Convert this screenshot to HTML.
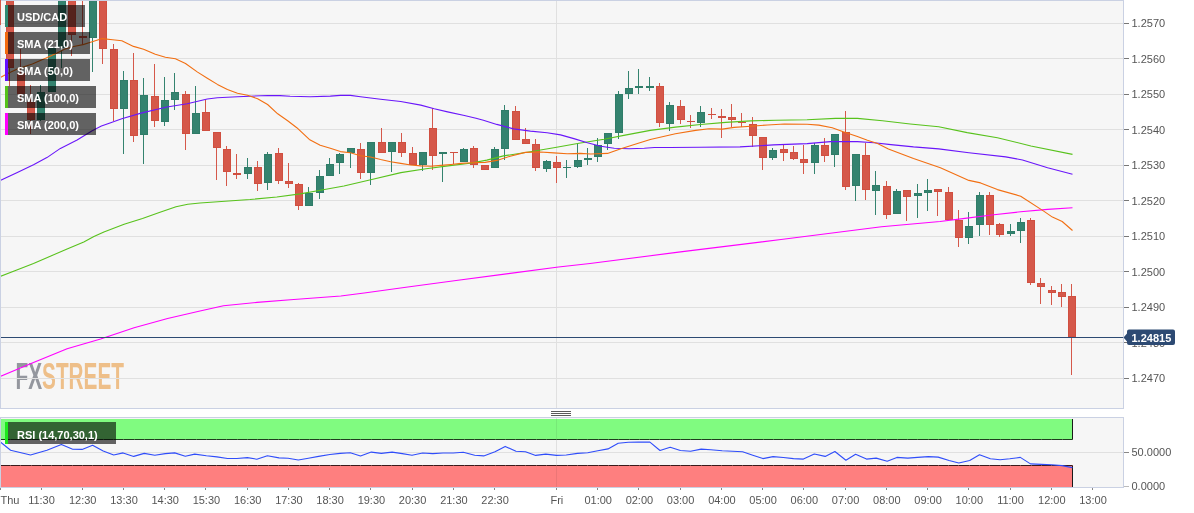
<!DOCTYPE html>
<html><head><meta charset="utf-8"><title>USD/CAD chart</title>
<style>
html,body{margin:0;padding:0;background:#fff;}
body{width:1194px;height:513px;overflow:hidden;}
svg{display:block;will-change:transform;}
</style></head><body>
<svg width="1194" height="513" viewBox="0 0 1194 513" font-family="'Liberation Sans', Arial, sans-serif">
<rect x="0" y="0" width="1194" height="513" fill="#ffffff"/>
<rect x="0" y="0" width="1124" height="409" fill="#f6f6f6"/>
<defs><clipPath id="cm"><rect x="1" y="1" width="1122" height="407"/></clipPath><clipPath id="cr"><rect x="1" y="418" width="1122" height="69"/></clipPath></defs>
<g opacity="0.95"><text x="15.5" y="388.7" font-size="36" font-weight="bold" transform="translate(15.5 0) scale(0.62 1) translate(-15.5 0)" textLength="175" lengthAdjust="spacingAndGlyphs" letter-spacing="0"><tspan fill="#8f929a">FX</tspan><tspan fill="#eebd84">STREET</tspan></text></g>
<g shape-rendering="crispEdges">
<line x1="1" y1="23.5" x2="1123" y2="23.5" stroke="#e0e0e0" stroke-width="1"/>
<line x1="1" y1="58.5" x2="1123" y2="58.5" stroke="#e0e0e0" stroke-width="1"/>
<line x1="1" y1="94.5" x2="1123" y2="94.5" stroke="#e0e0e0" stroke-width="1"/>
<line x1="1" y1="129.5" x2="1123" y2="129.5" stroke="#e0e0e0" stroke-width="1"/>
<line x1="1" y1="165.5" x2="1123" y2="165.5" stroke="#e0e0e0" stroke-width="1"/>
<line x1="1" y1="200.5" x2="1123" y2="200.5" stroke="#e0e0e0" stroke-width="1"/>
<line x1="1" y1="236.5" x2="1123" y2="236.5" stroke="#e0e0e0" stroke-width="1"/>
<line x1="1" y1="271.5" x2="1123" y2="271.5" stroke="#e0e0e0" stroke-width="1"/>
<line x1="1" y1="307.5" x2="1123" y2="307.5" stroke="#e0e0e0" stroke-width="1"/>
<line x1="1" y1="342.5" x2="1123" y2="342.5" stroke="#e0e0e0" stroke-width="1"/>
<line x1="1" y1="378.5" x2="1123" y2="378.5" stroke="#e0e0e0" stroke-width="1"/>
<line x1="556.5" y1="1" x2="556.5" y2="408" stroke="#e0e0e0" stroke-width="1"/>
</g>
<g clip-path="url(#cm)">
<g shape-rendering="crispEdges">
<rect x="9" y="-2" width="1" height="88" fill="#d5584a"/>
<rect x="6" y="-2" width="8" height="70" fill="#d04f40"/>
<rect x="7" y="-1" width="6" height="68" fill="#d5584a"/>
<rect x="20" y="49" width="1" height="53" fill="#d5584a"/>
<rect x="17" y="73" width="8" height="21" fill="#d04f40"/>
<rect x="18" y="74" width="6" height="19" fill="#d5584a"/>
<rect x="30" y="85" width="1" height="49" fill="#d5584a"/>
<rect x="27" y="102" width="8" height="18" fill="#d04f40"/>
<rect x="28" y="103" width="6" height="16" fill="#d5584a"/>
<rect x="40" y="85" width="1" height="36" fill="#34836f"/>
<rect x="37" y="92" width="8" height="28" fill="#2f7c68"/>
<rect x="38" y="93" width="6" height="26" fill="#34836f"/>
<rect x="51" y="47" width="1" height="45" fill="#34836f"/>
<rect x="48" y="48" width="8" height="44" fill="#2f7c68"/>
<rect x="49" y="49" width="6" height="42" fill="#34836f"/>
<rect x="61" y="-2" width="1" height="70" fill="#34836f"/>
<rect x="58" y="-2" width="8" height="50" fill="#2f7c68"/>
<rect x="59" y="-1" width="6" height="48" fill="#34836f"/>
<rect x="71" y="-2" width="1" height="58" fill="#d5584a"/>
<rect x="68" y="-2" width="8" height="37" fill="#d04f40"/>
<rect x="69" y="-1" width="6" height="35" fill="#d5584a"/>
<rect x="82" y="-2" width="1" height="47" fill="#d5584a"/>
<rect x="79" y="36" width="8" height="2" fill="#d04f40"/>
<rect x="92" y="-2" width="1" height="74" fill="#34836f"/>
<rect x="89" y="-2" width="8" height="40" fill="#2f7c68"/>
<rect x="90" y="-1" width="6" height="38" fill="#34836f"/>
<rect x="102" y="-2" width="1" height="66" fill="#d5584a"/>
<rect x="99" y="-2" width="8" height="51" fill="#d04f40"/>
<rect x="100" y="-1" width="6" height="49" fill="#d5584a"/>
<rect x="113" y="44" width="1" height="77" fill="#d5584a"/>
<rect x="110" y="49" width="8" height="60" fill="#d04f40"/>
<rect x="111" y="50" width="6" height="58" fill="#d5584a"/>
<rect x="123" y="71" width="1" height="83" fill="#34836f"/>
<rect x="120" y="80" width="8" height="29" fill="#2f7c68"/>
<rect x="121" y="81" width="6" height="27" fill="#34836f"/>
<rect x="133" y="53" width="1" height="89" fill="#d5584a"/>
<rect x="130" y="80" width="8" height="56" fill="#d04f40"/>
<rect x="131" y="81" width="6" height="54" fill="#d5584a"/>
<rect x="143" y="78" width="1" height="86" fill="#34836f"/>
<rect x="140" y="95" width="8" height="40" fill="#2f7c68"/>
<rect x="141" y="96" width="6" height="38" fill="#34836f"/>
<rect x="154" y="64" width="1" height="63" fill="#d5584a"/>
<rect x="151" y="96" width="8" height="25" fill="#d04f40"/>
<rect x="152" y="97" width="6" height="23" fill="#d5584a"/>
<rect x="164" y="77" width="1" height="49" fill="#34836f"/>
<rect x="161" y="100" width="8" height="22" fill="#2f7c68"/>
<rect x="162" y="101" width="6" height="20" fill="#34836f"/>
<rect x="174" y="73" width="1" height="37" fill="#34836f"/>
<rect x="171" y="92" width="8" height="8" fill="#2f7c68"/>
<rect x="172" y="93" width="6" height="6" fill="#34836f"/>
<rect x="185" y="91" width="1" height="59" fill="#d5584a"/>
<rect x="182" y="94" width="8" height="40" fill="#d04f40"/>
<rect x="183" y="95" width="6" height="38" fill="#d5584a"/>
<rect x="195" y="86" width="1" height="48" fill="#34836f"/>
<rect x="192" y="113" width="8" height="21" fill="#2f7c68"/>
<rect x="193" y="114" width="6" height="19" fill="#34836f"/>
<rect x="205" y="100" width="1" height="31" fill="#d5584a"/>
<rect x="202" y="112" width="8" height="19" fill="#d04f40"/>
<rect x="203" y="113" width="6" height="17" fill="#d5584a"/>
<rect x="216" y="132" width="1" height="48" fill="#d5584a"/>
<rect x="213" y="132" width="8" height="16" fill="#d04f40"/>
<rect x="214" y="133" width="6" height="14" fill="#d5584a"/>
<rect x="226" y="146" width="1" height="40" fill="#d5584a"/>
<rect x="223" y="149" width="8" height="23" fill="#d04f40"/>
<rect x="224" y="150" width="6" height="21" fill="#d5584a"/>
<rect x="236" y="154" width="1" height="25" fill="#d5584a"/>
<rect x="233" y="173" width="8" height="2" fill="#d04f40"/>
<rect x="247" y="158" width="1" height="21" fill="#34836f"/>
<rect x="244" y="167" width="8" height="7" fill="#2f7c68"/>
<rect x="245" y="168" width="6" height="5" fill="#34836f"/>
<rect x="257" y="161" width="1" height="30" fill="#d5584a"/>
<rect x="254" y="167" width="8" height="17" fill="#d04f40"/>
<rect x="255" y="168" width="6" height="15" fill="#d5584a"/>
<rect x="267" y="152" width="1" height="38" fill="#34836f"/>
<rect x="264" y="154" width="8" height="29" fill="#2f7c68"/>
<rect x="265" y="155" width="6" height="27" fill="#34836f"/>
<rect x="278" y="148" width="1" height="36" fill="#d5584a"/>
<rect x="275" y="153" width="8" height="28" fill="#d04f40"/>
<rect x="276" y="154" width="6" height="26" fill="#d5584a"/>
<rect x="288" y="163" width="1" height="25" fill="#d5584a"/>
<rect x="285" y="181" width="8" height="3" fill="#d04f40"/>
<rect x="286" y="182" width="6" height="1" fill="#d5584a"/>
<rect x="298" y="183" width="1" height="27" fill="#d5584a"/>
<rect x="295" y="184" width="8" height="22" fill="#d04f40"/>
<rect x="296" y="185" width="6" height="20" fill="#d5584a"/>
<rect x="308" y="187" width="1" height="19" fill="#34836f"/>
<rect x="305" y="193" width="8" height="13" fill="#2f7c68"/>
<rect x="306" y="194" width="6" height="11" fill="#34836f"/>
<rect x="319" y="170" width="1" height="29" fill="#34836f"/>
<rect x="316" y="176" width="8" height="17" fill="#2f7c68"/>
<rect x="317" y="177" width="6" height="15" fill="#34836f"/>
<rect x="329" y="158" width="1" height="18" fill="#34836f"/>
<rect x="326" y="164" width="8" height="12" fill="#2f7c68"/>
<rect x="327" y="165" width="6" height="10" fill="#34836f"/>
<rect x="339" y="153" width="1" height="21" fill="#34836f"/>
<rect x="336" y="154" width="8" height="9" fill="#2f7c68"/>
<rect x="337" y="155" width="6" height="7" fill="#34836f"/>
<rect x="350" y="148" width="1" height="20" fill="#34836f"/>
<rect x="347" y="148" width="8" height="5" fill="#2f7c68"/>
<rect x="348" y="149" width="6" height="3" fill="#34836f"/>
<rect x="360" y="143" width="1" height="36" fill="#d5584a"/>
<rect x="357" y="149" width="8" height="24" fill="#d04f40"/>
<rect x="358" y="150" width="6" height="22" fill="#d5584a"/>
<rect x="370" y="142" width="1" height="43" fill="#34836f"/>
<rect x="367" y="142" width="8" height="31" fill="#2f7c68"/>
<rect x="368" y="143" width="6" height="29" fill="#34836f"/>
<rect x="381" y="128" width="1" height="25" fill="#d5584a"/>
<rect x="378" y="142" width="8" height="11" fill="#d04f40"/>
<rect x="379" y="143" width="6" height="9" fill="#d5584a"/>
<rect x="391" y="142" width="1" height="30" fill="#34836f"/>
<rect x="388" y="142" width="8" height="10" fill="#2f7c68"/>
<rect x="389" y="143" width="6" height="8" fill="#34836f"/>
<rect x="401" y="133" width="1" height="24" fill="#d5584a"/>
<rect x="398" y="142" width="8" height="11" fill="#d04f40"/>
<rect x="399" y="143" width="6" height="9" fill="#d5584a"/>
<rect x="412" y="147" width="1" height="18" fill="#d5584a"/>
<rect x="409" y="153" width="8" height="12" fill="#d04f40"/>
<rect x="410" y="154" width="6" height="10" fill="#d5584a"/>
<rect x="422" y="152" width="1" height="19" fill="#34836f"/>
<rect x="419" y="152" width="8" height="13" fill="#2f7c68"/>
<rect x="420" y="153" width="6" height="11" fill="#34836f"/>
<rect x="432" y="108" width="1" height="62" fill="#d5584a"/>
<rect x="429" y="128" width="8" height="28" fill="#d04f40"/>
<rect x="430" y="129" width="6" height="26" fill="#d5584a"/>
<rect x="442" y="152" width="1" height="30" fill="#34836f"/>
<rect x="439" y="152" width="8" height="2" fill="#2f7c68"/>
<rect x="453" y="152" width="1" height="12" fill="#d5584a"/>
<rect x="450" y="152" width="8" height="1" fill="#d04f40"/>
<rect x="463" y="148" width="1" height="14" fill="#34836f"/>
<rect x="460" y="149" width="8" height="13" fill="#2f7c68"/>
<rect x="461" y="150" width="6" height="11" fill="#34836f"/>
<rect x="473" y="146" width="1" height="22" fill="#d5584a"/>
<rect x="470" y="148" width="8" height="17" fill="#d04f40"/>
<rect x="471" y="149" width="6" height="15" fill="#d5584a"/>
<rect x="484" y="165" width="1" height="5" fill="#d5584a"/>
<rect x="481" y="165" width="8" height="5" fill="#d04f40"/>
<rect x="482" y="166" width="6" height="3" fill="#d5584a"/>
<rect x="494" y="147" width="1" height="21" fill="#34836f"/>
<rect x="491" y="149" width="8" height="19" fill="#2f7c68"/>
<rect x="492" y="150" width="6" height="17" fill="#34836f"/>
<rect x="504" y="105" width="1" height="55" fill="#34836f"/>
<rect x="501" y="110" width="8" height="39" fill="#2f7c68"/>
<rect x="502" y="111" width="6" height="37" fill="#34836f"/>
<rect x="515" y="106" width="1" height="34" fill="#d5584a"/>
<rect x="512" y="111" width="8" height="29" fill="#d04f40"/>
<rect x="513" y="112" width="6" height="27" fill="#d5584a"/>
<rect x="525" y="128" width="1" height="16" fill="#d5584a"/>
<rect x="522" y="139" width="8" height="5" fill="#d04f40"/>
<rect x="523" y="140" width="6" height="3" fill="#d5584a"/>
<rect x="535" y="139" width="1" height="32" fill="#d5584a"/>
<rect x="532" y="144" width="8" height="24" fill="#d04f40"/>
<rect x="533" y="145" width="6" height="22" fill="#d5584a"/>
<rect x="546" y="160" width="1" height="12" fill="#34836f"/>
<rect x="543" y="161" width="8" height="8" fill="#2f7c68"/>
<rect x="544" y="162" width="6" height="6" fill="#34836f"/>
<rect x="556" y="156" width="1" height="27" fill="#d5584a"/>
<rect x="553" y="162" width="8" height="6" fill="#d04f40"/>
<rect x="554" y="163" width="6" height="4" fill="#d5584a"/>
<rect x="566" y="160" width="1" height="18" fill="#34836f"/>
<rect x="563" y="167" width="8" height="1" fill="#2f7c68"/>
<rect x="577" y="143" width="1" height="25" fill="#34836f"/>
<rect x="574" y="160" width="8" height="7" fill="#2f7c68"/>
<rect x="575" y="161" width="6" height="5" fill="#34836f"/>
<rect x="587" y="148" width="1" height="17" fill="#34836f"/>
<rect x="584" y="158" width="8" height="2" fill="#2f7c68"/>
<rect x="597" y="138" width="1" height="24" fill="#34836f"/>
<rect x="594" y="145" width="8" height="12" fill="#2f7c68"/>
<rect x="595" y="146" width="6" height="10" fill="#34836f"/>
<rect x="607" y="133" width="1" height="17" fill="#34836f"/>
<rect x="604" y="133" width="8" height="11" fill="#2f7c68"/>
<rect x="605" y="134" width="6" height="9" fill="#34836f"/>
<rect x="618" y="91" width="1" height="48" fill="#34836f"/>
<rect x="615" y="94" width="8" height="39" fill="#2f7c68"/>
<rect x="616" y="95" width="6" height="37" fill="#34836f"/>
<rect x="628" y="71" width="1" height="28" fill="#34836f"/>
<rect x="625" y="88" width="8" height="6" fill="#2f7c68"/>
<rect x="626" y="89" width="6" height="4" fill="#34836f"/>
<rect x="638" y="69" width="1" height="25" fill="#34836f"/>
<rect x="635" y="86" width="8" height="2" fill="#2f7c68"/>
<rect x="649" y="77" width="1" height="14" fill="#34836f"/>
<rect x="646" y="86" width="8" height="2" fill="#2f7c68"/>
<rect x="659" y="83" width="1" height="44" fill="#d5584a"/>
<rect x="656" y="86" width="8" height="37" fill="#d04f40"/>
<rect x="657" y="87" width="6" height="35" fill="#d5584a"/>
<rect x="669" y="102" width="1" height="29" fill="#34836f"/>
<rect x="666" y="105" width="8" height="19" fill="#2f7c68"/>
<rect x="667" y="106" width="6" height="17" fill="#34836f"/>
<rect x="680" y="100" width="1" height="24" fill="#d5584a"/>
<rect x="677" y="106" width="8" height="14" fill="#d04f40"/>
<rect x="678" y="107" width="6" height="12" fill="#d5584a"/>
<rect x="690" y="115" width="1" height="13" fill="#d5584a"/>
<rect x="687" y="121" width="8" height="1" fill="#d04f40"/>
<rect x="700" y="106" width="1" height="21" fill="#34836f"/>
<rect x="697" y="112" width="8" height="11" fill="#2f7c68"/>
<rect x="698" y="113" width="6" height="9" fill="#34836f"/>
<rect x="711" y="108" width="1" height="11" fill="#d5584a"/>
<rect x="708" y="114" width="8" height="1" fill="#d04f40"/>
<rect x="721" y="109" width="1" height="29" fill="#d5584a"/>
<rect x="718" y="116" width="8" height="2" fill="#d04f40"/>
<rect x="731" y="104" width="1" height="23" fill="#d5584a"/>
<rect x="728" y="117" width="8" height="3" fill="#d04f40"/>
<rect x="729" y="118" width="6" height="1" fill="#d5584a"/>
<rect x="741" y="113" width="1" height="14" fill="#d5584a"/>
<rect x="738" y="122" width="8" height="1" fill="#d04f40"/>
<rect x="752" y="117" width="1" height="30" fill="#d5584a"/>
<rect x="749" y="124" width="8" height="12" fill="#d04f40"/>
<rect x="750" y="125" width="6" height="10" fill="#d5584a"/>
<rect x="762" y="137" width="1" height="33" fill="#d5584a"/>
<rect x="759" y="137" width="8" height="21" fill="#d04f40"/>
<rect x="760" y="138" width="6" height="19" fill="#d5584a"/>
<rect x="772" y="148" width="1" height="12" fill="#34836f"/>
<rect x="769" y="150" width="8" height="8" fill="#2f7c68"/>
<rect x="770" y="151" width="6" height="6" fill="#34836f"/>
<rect x="783" y="145" width="1" height="16" fill="#d5584a"/>
<rect x="780" y="149" width="8" height="4" fill="#d04f40"/>
<rect x="781" y="150" width="6" height="2" fill="#d5584a"/>
<rect x="793" y="146" width="1" height="14" fill="#d5584a"/>
<rect x="790" y="152" width="8" height="7" fill="#d04f40"/>
<rect x="791" y="153" width="6" height="5" fill="#d5584a"/>
<rect x="803" y="145" width="1" height="29" fill="#d5584a"/>
<rect x="800" y="159" width="8" height="4" fill="#d04f40"/>
<rect x="801" y="160" width="6" height="2" fill="#d5584a"/>
<rect x="814" y="143" width="1" height="31" fill="#34836f"/>
<rect x="811" y="145" width="8" height="18" fill="#2f7c68"/>
<rect x="812" y="146" width="6" height="16" fill="#34836f"/>
<rect x="824" y="138" width="1" height="24" fill="#d5584a"/>
<rect x="821" y="145" width="8" height="11" fill="#d04f40"/>
<rect x="822" y="146" width="6" height="9" fill="#d5584a"/>
<rect x="834" y="134" width="1" height="33" fill="#34836f"/>
<rect x="831" y="134" width="8" height="21" fill="#2f7c68"/>
<rect x="832" y="135" width="6" height="19" fill="#34836f"/>
<rect x="845" y="111" width="1" height="79" fill="#d5584a"/>
<rect x="842" y="132" width="8" height="55" fill="#d04f40"/>
<rect x="843" y="133" width="6" height="53" fill="#d5584a"/>
<rect x="855" y="154" width="1" height="47" fill="#34836f"/>
<rect x="852" y="154" width="8" height="32" fill="#2f7c68"/>
<rect x="853" y="155" width="6" height="30" fill="#34836f"/>
<rect x="865" y="143" width="1" height="57" fill="#d5584a"/>
<rect x="862" y="155" width="8" height="35" fill="#d04f40"/>
<rect x="863" y="156" width="6" height="33" fill="#d5584a"/>
<rect x="875" y="171" width="1" height="44" fill="#34836f"/>
<rect x="872" y="185" width="8" height="6" fill="#2f7c68"/>
<rect x="873" y="186" width="6" height="4" fill="#34836f"/>
<rect x="886" y="181" width="1" height="38" fill="#d5584a"/>
<rect x="883" y="186" width="8" height="29" fill="#d04f40"/>
<rect x="884" y="187" width="6" height="27" fill="#d5584a"/>
<rect x="896" y="189" width="1" height="25" fill="#34836f"/>
<rect x="893" y="191" width="8" height="23" fill="#2f7c68"/>
<rect x="894" y="192" width="6" height="21" fill="#34836f"/>
<rect x="906" y="190" width="1" height="31" fill="#d5584a"/>
<rect x="903" y="190" width="8" height="7" fill="#d04f40"/>
<rect x="904" y="191" width="6" height="5" fill="#d5584a"/>
<rect x="917" y="184" width="1" height="34" fill="#34836f"/>
<rect x="914" y="193" width="8" height="3" fill="#2f7c68"/>
<rect x="915" y="194" width="6" height="1" fill="#34836f"/>
<rect x="927" y="179" width="1" height="32" fill="#34836f"/>
<rect x="924" y="190" width="8" height="3" fill="#2f7c68"/>
<rect x="925" y="191" width="6" height="1" fill="#34836f"/>
<rect x="937" y="189" width="1" height="27" fill="#d5584a"/>
<rect x="934" y="189" width="8" height="3" fill="#d04f40"/>
<rect x="935" y="190" width="6" height="1" fill="#d5584a"/>
<rect x="948" y="187" width="1" height="33" fill="#d5584a"/>
<rect x="945" y="192" width="8" height="28" fill="#d04f40"/>
<rect x="946" y="193" width="6" height="26" fill="#d5584a"/>
<rect x="958" y="210" width="1" height="37" fill="#d5584a"/>
<rect x="955" y="220" width="8" height="18" fill="#d04f40"/>
<rect x="956" y="221" width="6" height="16" fill="#d5584a"/>
<rect x="968" y="212" width="1" height="32" fill="#34836f"/>
<rect x="965" y="226" width="8" height="12" fill="#2f7c68"/>
<rect x="966" y="227" width="6" height="10" fill="#34836f"/>
<rect x="979" y="192" width="1" height="44" fill="#34836f"/>
<rect x="976" y="195" width="8" height="30" fill="#2f7c68"/>
<rect x="977" y="196" width="6" height="28" fill="#34836f"/>
<rect x="989" y="192" width="1" height="43" fill="#d5584a"/>
<rect x="986" y="195" width="8" height="30" fill="#d04f40"/>
<rect x="987" y="196" width="6" height="28" fill="#d5584a"/>
<rect x="999" y="223" width="1" height="14" fill="#d5584a"/>
<rect x="996" y="224" width="8" height="11" fill="#d04f40"/>
<rect x="997" y="225" width="6" height="9" fill="#d5584a"/>
<rect x="1010" y="224" width="1" height="12" fill="#34836f"/>
<rect x="1007" y="231" width="8" height="3" fill="#2f7c68"/>
<rect x="1008" y="232" width="6" height="1" fill="#34836f"/>
<rect x="1020" y="218" width="1" height="25" fill="#34836f"/>
<rect x="1017" y="222" width="8" height="9" fill="#2f7c68"/>
<rect x="1018" y="223" width="6" height="7" fill="#34836f"/>
<rect x="1030" y="218" width="1" height="67" fill="#d5584a"/>
<rect x="1027" y="220" width="8" height="63" fill="#d04f40"/>
<rect x="1028" y="221" width="6" height="61" fill="#d5584a"/>
<rect x="1040" y="278" width="1" height="26" fill="#d5584a"/>
<rect x="1037" y="283" width="8" height="4" fill="#d04f40"/>
<rect x="1038" y="284" width="6" height="2" fill="#d5584a"/>
<rect x="1051" y="286" width="1" height="19" fill="#d5584a"/>
<rect x="1048" y="290" width="8" height="3" fill="#d04f40"/>
<rect x="1049" y="291" width="6" height="1" fill="#d5584a"/>
<rect x="1061" y="284" width="1" height="23" fill="#d5584a"/>
<rect x="1058" y="292" width="8" height="5" fill="#d04f40"/>
<rect x="1059" y="293" width="6" height="3" fill="#d5584a"/>
<rect x="1071" y="284" width="1" height="91" fill="#d5584a"/>
<rect x="1068" y="296" width="8" height="41" fill="#d04f40"/>
<rect x="1069" y="297" width="6" height="39" fill="#d5584a"/>
</g>
<polyline points="0.0,376.5 33.5,362.4 67.1,348.7 100.6,339.0 134.1,327.7 167.6,318.5 200.0,311.0 223.5,305.8 257.0,302.4 290.5,299.7 340.8,296.0 364.2,293.0 407.8,287.0 458.0,280.3 508.3,273.6 558.5,267.0 590.0,263.5 680.5,251.9 781.0,239.5 881.5,226.8 940.0,221.5 966.9,218.1 993.8,214.8 1020.6,211.8 1047.6,209.4 1072.5,207.7" fill="none" stroke="#ff00ff" stroke-width="1.1" stroke-linejoin="round"/>
<polyline points="0.0,276.6 16.8,270.1 33.5,263.4 50.3,256.2 67.1,249.0 83.8,241.9 93.9,236.5 103.9,231.9 124.1,224.3 142.5,218.4 159.3,212.6 176.0,206.7 187.8,204.2 200.0,203.0 250.0,199.5 276.8,197.0 300.3,193.9 320.4,190.2 343.9,186.0 370.7,179.8 400.9,172.6 426.0,168.8 450.0,165.6 470.0,163.2 486.8,160.1 503.5,155.9 528.7,152.0 553.8,147.8 579.0,143.3 604.1,139.2 625.1,135.1 650.3,130.4 675.4,127.1 700.6,124.5 725.7,122.4 750.9,120.9 776.0,120.2 807.1,119.8 835.6,118.4 857.4,118.4 882.5,120.7 910.2,124.0 938.7,126.8 967.2,132.6 997.4,137.7 1030.9,146.0 1072.5,154.4" fill="none" stroke="#58c21c" stroke-width="1.1" stroke-linejoin="round"/>
<polyline points="0.0,180.7 16.8,172.7 33.5,164.8 46.9,157.6 60.4,148.4 77.1,140.0 92.2,130.7 101.4,126.1 110.0,122.9 121.8,118.8 141.9,112.9 167.0,107.0 187.2,103.7 207.3,99.0 217.4,97.8 237.5,96.7 267.6,95.5 280.0,95.6 290.1,96.3 310.2,96.8 330.3,96.1 340.4,95.4 350.4,95.4 360.5,96.8 380.6,99.3 400.7,101.5 420.8,105.1 434.2,108.8 447.6,111.9 464.4,115.5 476.0,118.3 483.4,120.2 496.8,124.4 513.6,128.9 530.4,131.1 547.1,132.7 560.5,134.9 573.9,138.6 587.4,142.8 600.8,146.2 614.2,148.3 629.3,148.7 644.3,148.2 654.4,147.5 670.0,147.5 700.0,147.2 740.0,146.9 773.5,144.9 807.1,143.6 830.5,141.6 857.4,141.6 874.1,142.7 890.9,144.6 913.5,146.9 938.7,148.9 968.9,152.7 1005.7,156.9 1022.5,160.0 1047.6,167.8 1072.5,174.2" fill="none" stroke="#6a16fa" stroke-width="1.1" stroke-linejoin="round"/>
<polyline points="0.0,77.8 8.3,73.2 18.4,68.6 32.3,64.0 46.1,58.0 57.1,52.9 64.5,49.2 73.7,46.5 83.0,44.6 92.2,41.8 102.3,38.6 112.6,39.8 121.8,40.8 133.5,46.4 143.6,49.2 155.3,54.3 165.4,57.3 175.4,58.8 185.5,63.5 197.2,71.9 207.3,78.2 217.4,84.4 227.4,89.5 237.5,93.3 247.5,95.3 257.6,98.7 267.6,104.5 277.7,113.8 288.0,121.0 296.8,127.7 309.3,139.4 320.2,145.3 330.3,148.3 340.4,151.6 350.4,152.8 360.5,155.7 370.5,157.0 380.6,159.5 390.6,161.7 400.7,163.4 410.8,165.0 420.8,165.9 430.9,166.2 440.9,165.4 451.0,164.5 461.0,163.4 471.1,162.7 485.1,162.4 496.8,160.4 510.2,156.2 525.3,152.4 540.4,152.0 553.8,152.9 567.2,153.7 580.6,153.4 590.7,154.0 607.5,153.4 620.9,148.7 634.3,144.5 650.3,139.5 675.4,133.8 695.6,130.4 709.0,128.7 722.4,129.1 734.1,127.4 750.9,126.2 767.6,125.0 784.4,124.0 807.1,124.3 818.8,125.1 832.2,127.7 843.9,131.9 857.4,136.5 867.4,140.2 877.5,143.6 888.4,148.9 913.5,158.6 940.4,167.8 968.9,180.4 980.6,182.9 997.4,189.6 1020.7,196.2 1043.7,211.1 1052.4,217.1 1062.2,221.5 1072.5,230.5" fill="none" stroke="#f26f12" stroke-width="1.1" stroke-linejoin="round"/>
<line x1="0" y1="337.5" x2="1124" y2="337.5" stroke="#2d4a73" stroke-width="1.2"/>
</g>
<rect x="0.5" y="0.5" width="1123" height="408" fill="none" stroke="#cad1e3" stroke-width="1"/>
<rect x="0" y="0" width="1" height="25" fill="#d5584a"/>
<rect x="5" y="5" width="80" height="22" fill="rgba(0,0,0,0.6)"/>
<rect x="5" y="5" width="3" height="22" fill="#2e8a73"/>
<text x="17" y="21" font-size="11" font-weight="bold" fill="#ffffff">USD/CAD</text>
<rect x="5" y="32" width="85" height="22" fill="rgba(0,0,0,0.6)"/>
<rect x="5" y="32" width="3" height="22" fill="#f36a0f"/>
<text x="17" y="48" font-size="11" font-weight="bold" fill="#ffffff">SMA (21,0)</text>
<rect x="5" y="59" width="85" height="22" fill="rgba(0,0,0,0.6)"/>
<rect x="5" y="59" width="3" height="22" fill="#6410ff"/>
<text x="17" y="75" font-size="11" font-weight="bold" fill="#ffffff">SMA (50,0)</text>
<rect x="5" y="86" width="91" height="22" fill="rgba(0,0,0,0.6)"/>
<rect x="5" y="86" width="3" height="22" fill="#55c21a"/>
<text x="17" y="102" font-size="11" font-weight="bold" fill="#ffffff">SMA (100,0)</text>
<rect x="5" y="113" width="91" height="22" fill="rgba(0,0,0,0.6)"/>
<rect x="5" y="113" width="3" height="22" fill="#ff00ff"/>
<text x="17" y="129" font-size="11" font-weight="bold" fill="#ffffff">SMA (200,0)</text>
<g shape-rendering="crispEdges">
<line x1="1124" y1="23.5" x2="1129" y2="23.5" stroke="#777" stroke-width="1"/>
<line x1="1124" y1="58.5" x2="1129" y2="58.5" stroke="#777" stroke-width="1"/>
<line x1="1124" y1="94.5" x2="1129" y2="94.5" stroke="#777" stroke-width="1"/>
<line x1="1124" y1="129.5" x2="1129" y2="129.5" stroke="#777" stroke-width="1"/>
<line x1="1124" y1="165.5" x2="1129" y2="165.5" stroke="#777" stroke-width="1"/>
<line x1="1124" y1="200.5" x2="1129" y2="200.5" stroke="#777" stroke-width="1"/>
<line x1="1124" y1="236.5" x2="1129" y2="236.5" stroke="#777" stroke-width="1"/>
<line x1="1124" y1="271.5" x2="1129" y2="271.5" stroke="#777" stroke-width="1"/>
<line x1="1124" y1="307.5" x2="1129" y2="307.5" stroke="#777" stroke-width="1"/>
<line x1="1124" y1="342.5" x2="1129" y2="342.5" stroke="#777" stroke-width="1"/>
<line x1="1124" y1="378.5" x2="1129" y2="378.5" stroke="#777" stroke-width="1"/>
</g>
<text x="1131.5" y="27.4" font-size="11" fill="#555555">1.2570</text>
<text x="1131.5" y="62.9" font-size="11" fill="#555555">1.2560</text>
<text x="1131.5" y="98.3" font-size="11" fill="#555555">1.2550</text>
<text x="1131.5" y="133.8" font-size="11" fill="#555555">1.2540</text>
<text x="1131.5" y="169.2" font-size="11" fill="#555555">1.2530</text>
<text x="1131.5" y="204.7" font-size="11" fill="#555555">1.2520</text>
<text x="1131.5" y="240.2" font-size="11" fill="#555555">1.2510</text>
<text x="1131.5" y="275.6" font-size="11" fill="#555555">1.2500</text>
<text x="1131.5" y="311.1" font-size="11" fill="#555555">1.2490</text>
<text x="1131.5" y="346.5" font-size="11" fill="#555555">1.2480</text>
<text x="1131.5" y="382.0" font-size="11" fill="#555555">1.2470</text>
<path d="M1123.5,337.5 L1127,333.5 L1127,331.5 Q1127,329.5 1129,329.5 L1173,329.5 Q1175,329.5 1175,331.5 L1175,343 Q1175,345 1173,345 L1129,345 Q1127,345 1127,343 L1127,341.5 Z" fill="#2d4a73"/>
<text x="1131.5" y="341.8" font-size="11" font-weight="bold" fill="#ffffff">1.24815</text>
<g shape-rendering="crispEdges">
<rect x="551" y="411" width="20" height="1" fill="#5a5a5a"/>
<rect x="551" y="413" width="20" height="1" fill="#5a5a5a"/>
<rect x="551" y="415" width="20" height="1" fill="#5a5a5a"/>
</g>
<rect x="0" y="417" width="1124" height="71" fill="#f6f6f6"/>
<g shape-rendering="crispEdges">
<line x1="1" y1="452.5" x2="1123" y2="452.5" stroke="#e0e0e0" stroke-width="1"/>
<line x1="556.5" y1="418" x2="556.5" y2="487" stroke="#e0e0e0" stroke-width="1"/>
<rect x="1" y="419" width="1072" height="20" fill="#80fb80"/>
<rect x="1" y="439" width="1072" height="1" fill="#1f3d1f"/>
<rect x="1072" y="419" width="1" height="21" fill="#1a1a1a"/>
<rect x="0" y="419" width="1" height="21" fill="#1a1a1a"/>
<rect x="1" y="465" width="1072" height="22" fill="#fe7f7f"/>
<rect x="1" y="465" width="1072" height="1" fill="#3a1a1a"/>
<rect x="1072" y="465" width="1" height="22" fill="#1a1a1a"/>
<rect x="0" y="465" width="1" height="22" fill="#1a1a1a"/>
<rect x="10" y="439" width="1" height="1" fill="#4a6a42"/>
<rect x="10" y="465" width="1" height="1" fill="#7a4a4a"/>
<rect x="20" y="439" width="1" height="1" fill="#4a6a42"/>
<rect x="20" y="465" width="1" height="1" fill="#7a4a4a"/>
<rect x="31" y="439" width="1" height="1" fill="#4a6a42"/>
<rect x="31" y="465" width="1" height="1" fill="#7a4a4a"/>
<rect x="41" y="439" width="1" height="1" fill="#4a6a42"/>
<rect x="41" y="465" width="1" height="1" fill="#7a4a4a"/>
<rect x="51" y="439" width="1" height="1" fill="#4a6a42"/>
<rect x="51" y="465" width="1" height="1" fill="#7a4a4a"/>
<rect x="62" y="439" width="1" height="1" fill="#4a6a42"/>
<rect x="62" y="465" width="1" height="1" fill="#7a4a4a"/>
<rect x="72" y="439" width="1" height="1" fill="#4a6a42"/>
<rect x="72" y="465" width="1" height="1" fill="#7a4a4a"/>
<rect x="82" y="439" width="1" height="1" fill="#4a6a42"/>
<rect x="82" y="465" width="1" height="1" fill="#7a4a4a"/>
<rect x="92" y="439" width="1" height="1" fill="#4a6a42"/>
<rect x="92" y="465" width="1" height="1" fill="#7a4a4a"/>
<rect x="103" y="439" width="1" height="1" fill="#4a6a42"/>
<rect x="103" y="465" width="1" height="1" fill="#7a4a4a"/>
<rect x="113" y="439" width="1" height="1" fill="#4a6a42"/>
<rect x="113" y="465" width="1" height="1" fill="#7a4a4a"/>
<rect x="123" y="439" width="1" height="1" fill="#4a6a42"/>
<rect x="123" y="465" width="1" height="1" fill="#7a4a4a"/>
<rect x="134" y="439" width="1" height="1" fill="#4a6a42"/>
<rect x="134" y="465" width="1" height="1" fill="#7a4a4a"/>
<rect x="144" y="439" width="1" height="1" fill="#4a6a42"/>
<rect x="144" y="465" width="1" height="1" fill="#7a4a4a"/>
<rect x="154" y="439" width="1" height="1" fill="#4a6a42"/>
<rect x="154" y="465" width="1" height="1" fill="#7a4a4a"/>
<rect x="165" y="439" width="1" height="1" fill="#4a6a42"/>
<rect x="165" y="465" width="1" height="1" fill="#7a4a4a"/>
<rect x="175" y="439" width="1" height="1" fill="#4a6a42"/>
<rect x="175" y="465" width="1" height="1" fill="#7a4a4a"/>
<rect x="185" y="439" width="1" height="1" fill="#4a6a42"/>
<rect x="185" y="465" width="1" height="1" fill="#7a4a4a"/>
<rect x="196" y="439" width="1" height="1" fill="#4a6a42"/>
<rect x="196" y="465" width="1" height="1" fill="#7a4a4a"/>
<rect x="206" y="439" width="1" height="1" fill="#4a6a42"/>
<rect x="206" y="465" width="1" height="1" fill="#7a4a4a"/>
<rect x="216" y="439" width="1" height="1" fill="#4a6a42"/>
<rect x="216" y="465" width="1" height="1" fill="#7a4a4a"/>
<rect x="226" y="439" width="1" height="1" fill="#4a6a42"/>
<rect x="226" y="465" width="1" height="1" fill="#7a4a4a"/>
<rect x="237" y="439" width="1" height="1" fill="#4a6a42"/>
<rect x="237" y="465" width="1" height="1" fill="#7a4a4a"/>
<rect x="247" y="439" width="1" height="1" fill="#4a6a42"/>
<rect x="247" y="465" width="1" height="1" fill="#7a4a4a"/>
<rect x="257" y="439" width="1" height="1" fill="#4a6a42"/>
<rect x="257" y="465" width="1" height="1" fill="#7a4a4a"/>
<rect x="268" y="439" width="1" height="1" fill="#4a6a42"/>
<rect x="268" y="465" width="1" height="1" fill="#7a4a4a"/>
<rect x="278" y="439" width="1" height="1" fill="#4a6a42"/>
<rect x="278" y="465" width="1" height="1" fill="#7a4a4a"/>
<rect x="288" y="439" width="1" height="1" fill="#4a6a42"/>
<rect x="288" y="465" width="1" height="1" fill="#7a4a4a"/>
<rect x="299" y="439" width="1" height="1" fill="#4a6a42"/>
<rect x="299" y="465" width="1" height="1" fill="#7a4a4a"/>
<rect x="309" y="439" width="1" height="1" fill="#4a6a42"/>
<rect x="309" y="465" width="1" height="1" fill="#7a4a4a"/>
<rect x="319" y="439" width="1" height="1" fill="#4a6a42"/>
<rect x="319" y="465" width="1" height="1" fill="#7a4a4a"/>
<rect x="330" y="439" width="1" height="1" fill="#4a6a42"/>
<rect x="330" y="465" width="1" height="1" fill="#7a4a4a"/>
<rect x="340" y="439" width="1" height="1" fill="#4a6a42"/>
<rect x="340" y="465" width="1" height="1" fill="#7a4a4a"/>
<rect x="350" y="439" width="1" height="1" fill="#4a6a42"/>
<rect x="350" y="465" width="1" height="1" fill="#7a4a4a"/>
<rect x="360" y="439" width="1" height="1" fill="#4a6a42"/>
<rect x="360" y="465" width="1" height="1" fill="#7a4a4a"/>
<rect x="371" y="439" width="1" height="1" fill="#4a6a42"/>
<rect x="371" y="465" width="1" height="1" fill="#7a4a4a"/>
<rect x="381" y="439" width="1" height="1" fill="#4a6a42"/>
<rect x="381" y="465" width="1" height="1" fill="#7a4a4a"/>
<rect x="391" y="439" width="1" height="1" fill="#4a6a42"/>
<rect x="391" y="465" width="1" height="1" fill="#7a4a4a"/>
<rect x="402" y="439" width="1" height="1" fill="#4a6a42"/>
<rect x="402" y="465" width="1" height="1" fill="#7a4a4a"/>
<rect x="412" y="439" width="1" height="1" fill="#4a6a42"/>
<rect x="412" y="465" width="1" height="1" fill="#7a4a4a"/>
<rect x="422" y="439" width="1" height="1" fill="#4a6a42"/>
<rect x="422" y="465" width="1" height="1" fill="#7a4a4a"/>
<rect x="433" y="439" width="1" height="1" fill="#4a6a42"/>
<rect x="433" y="465" width="1" height="1" fill="#7a4a4a"/>
<rect x="443" y="439" width="1" height="1" fill="#4a6a42"/>
<rect x="443" y="465" width="1" height="1" fill="#7a4a4a"/>
<rect x="453" y="439" width="1" height="1" fill="#4a6a42"/>
<rect x="453" y="465" width="1" height="1" fill="#7a4a4a"/>
<rect x="464" y="439" width="1" height="1" fill="#4a6a42"/>
<rect x="464" y="465" width="1" height="1" fill="#7a4a4a"/>
<rect x="474" y="439" width="1" height="1" fill="#4a6a42"/>
<rect x="474" y="465" width="1" height="1" fill="#7a4a4a"/>
<rect x="484" y="439" width="1" height="1" fill="#4a6a42"/>
<rect x="484" y="465" width="1" height="1" fill="#7a4a4a"/>
<rect x="495" y="439" width="1" height="1" fill="#4a6a42"/>
<rect x="495" y="465" width="1" height="1" fill="#7a4a4a"/>
<rect x="505" y="439" width="1" height="1" fill="#4a6a42"/>
<rect x="505" y="465" width="1" height="1" fill="#7a4a4a"/>
<rect x="515" y="439" width="1" height="1" fill="#4a6a42"/>
<rect x="515" y="465" width="1" height="1" fill="#7a4a4a"/>
<rect x="525" y="439" width="1" height="1" fill="#4a6a42"/>
<rect x="525" y="465" width="1" height="1" fill="#7a4a4a"/>
<rect x="536" y="439" width="1" height="1" fill="#4a6a42"/>
<rect x="536" y="465" width="1" height="1" fill="#7a4a4a"/>
<rect x="546" y="439" width="1" height="1" fill="#4a6a42"/>
<rect x="546" y="465" width="1" height="1" fill="#7a4a4a"/>
<rect x="556" y="439" width="1" height="1" fill="#4a6a42"/>
<rect x="556" y="465" width="1" height="1" fill="#7a4a4a"/>
<rect x="567" y="439" width="1" height="1" fill="#4a6a42"/>
<rect x="567" y="465" width="1" height="1" fill="#7a4a4a"/>
<rect x="577" y="439" width="1" height="1" fill="#4a6a42"/>
<rect x="577" y="465" width="1" height="1" fill="#7a4a4a"/>
<rect x="587" y="439" width="1" height="1" fill="#4a6a42"/>
<rect x="587" y="465" width="1" height="1" fill="#7a4a4a"/>
<rect x="598" y="439" width="1" height="1" fill="#4a6a42"/>
<rect x="598" y="465" width="1" height="1" fill="#7a4a4a"/>
<rect x="608" y="439" width="1" height="1" fill="#4a6a42"/>
<rect x="608" y="465" width="1" height="1" fill="#7a4a4a"/>
<rect x="618" y="439" width="1" height="1" fill="#4a6a42"/>
<rect x="618" y="465" width="1" height="1" fill="#7a4a4a"/>
<rect x="629" y="439" width="1" height="1" fill="#4a6a42"/>
<rect x="629" y="465" width="1" height="1" fill="#7a4a4a"/>
<rect x="639" y="439" width="1" height="1" fill="#4a6a42"/>
<rect x="639" y="465" width="1" height="1" fill="#7a4a4a"/>
<rect x="649" y="439" width="1" height="1" fill="#4a6a42"/>
<rect x="649" y="465" width="1" height="1" fill="#7a4a4a"/>
<rect x="659" y="439" width="1" height="1" fill="#4a6a42"/>
<rect x="659" y="465" width="1" height="1" fill="#7a4a4a"/>
<rect x="670" y="439" width="1" height="1" fill="#4a6a42"/>
<rect x="670" y="465" width="1" height="1" fill="#7a4a4a"/>
<rect x="680" y="439" width="1" height="1" fill="#4a6a42"/>
<rect x="680" y="465" width="1" height="1" fill="#7a4a4a"/>
<rect x="690" y="439" width="1" height="1" fill="#4a6a42"/>
<rect x="690" y="465" width="1" height="1" fill="#7a4a4a"/>
<rect x="701" y="439" width="1" height="1" fill="#4a6a42"/>
<rect x="701" y="465" width="1" height="1" fill="#7a4a4a"/>
<rect x="711" y="439" width="1" height="1" fill="#4a6a42"/>
<rect x="711" y="465" width="1" height="1" fill="#7a4a4a"/>
<rect x="721" y="439" width="1" height="1" fill="#4a6a42"/>
<rect x="721" y="465" width="1" height="1" fill="#7a4a4a"/>
<rect x="732" y="439" width="1" height="1" fill="#4a6a42"/>
<rect x="732" y="465" width="1" height="1" fill="#7a4a4a"/>
<rect x="742" y="439" width="1" height="1" fill="#4a6a42"/>
<rect x="742" y="465" width="1" height="1" fill="#7a4a4a"/>
<rect x="752" y="439" width="1" height="1" fill="#4a6a42"/>
<rect x="752" y="465" width="1" height="1" fill="#7a4a4a"/>
<rect x="763" y="439" width="1" height="1" fill="#4a6a42"/>
<rect x="763" y="465" width="1" height="1" fill="#7a4a4a"/>
<rect x="773" y="439" width="1" height="1" fill="#4a6a42"/>
<rect x="773" y="465" width="1" height="1" fill="#7a4a4a"/>
<rect x="783" y="439" width="1" height="1" fill="#4a6a42"/>
<rect x="783" y="465" width="1" height="1" fill="#7a4a4a"/>
<rect x="794" y="439" width="1" height="1" fill="#4a6a42"/>
<rect x="794" y="465" width="1" height="1" fill="#7a4a4a"/>
<rect x="804" y="439" width="1" height="1" fill="#4a6a42"/>
<rect x="804" y="465" width="1" height="1" fill="#7a4a4a"/>
<rect x="814" y="439" width="1" height="1" fill="#4a6a42"/>
<rect x="814" y="465" width="1" height="1" fill="#7a4a4a"/>
<rect x="824" y="439" width="1" height="1" fill="#4a6a42"/>
<rect x="824" y="465" width="1" height="1" fill="#7a4a4a"/>
<rect x="835" y="439" width="1" height="1" fill="#4a6a42"/>
<rect x="835" y="465" width="1" height="1" fill="#7a4a4a"/>
<rect x="845" y="439" width="1" height="1" fill="#4a6a42"/>
<rect x="845" y="465" width="1" height="1" fill="#7a4a4a"/>
<rect x="855" y="439" width="1" height="1" fill="#4a6a42"/>
<rect x="855" y="465" width="1" height="1" fill="#7a4a4a"/>
<rect x="866" y="439" width="1" height="1" fill="#4a6a42"/>
<rect x="866" y="465" width="1" height="1" fill="#7a4a4a"/>
<rect x="876" y="439" width="1" height="1" fill="#4a6a42"/>
<rect x="876" y="465" width="1" height="1" fill="#7a4a4a"/>
<rect x="886" y="439" width="1" height="1" fill="#4a6a42"/>
<rect x="886" y="465" width="1" height="1" fill="#7a4a4a"/>
<rect x="897" y="439" width="1" height="1" fill="#4a6a42"/>
<rect x="897" y="465" width="1" height="1" fill="#7a4a4a"/>
<rect x="907" y="439" width="1" height="1" fill="#4a6a42"/>
<rect x="907" y="465" width="1" height="1" fill="#7a4a4a"/>
<rect x="917" y="439" width="1" height="1" fill="#4a6a42"/>
<rect x="917" y="465" width="1" height="1" fill="#7a4a4a"/>
<rect x="928" y="439" width="1" height="1" fill="#4a6a42"/>
<rect x="928" y="465" width="1" height="1" fill="#7a4a4a"/>
<rect x="938" y="439" width="1" height="1" fill="#4a6a42"/>
<rect x="938" y="465" width="1" height="1" fill="#7a4a4a"/>
<rect x="948" y="439" width="1" height="1" fill="#4a6a42"/>
<rect x="948" y="465" width="1" height="1" fill="#7a4a4a"/>
<rect x="958" y="439" width="1" height="1" fill="#4a6a42"/>
<rect x="958" y="465" width="1" height="1" fill="#7a4a4a"/>
<rect x="969" y="439" width="1" height="1" fill="#4a6a42"/>
<rect x="969" y="465" width="1" height="1" fill="#7a4a4a"/>
<rect x="979" y="439" width="1" height="1" fill="#4a6a42"/>
<rect x="979" y="465" width="1" height="1" fill="#7a4a4a"/>
<rect x="989" y="439" width="1" height="1" fill="#4a6a42"/>
<rect x="989" y="465" width="1" height="1" fill="#7a4a4a"/>
<rect x="1000" y="439" width="1" height="1" fill="#4a6a42"/>
<rect x="1000" y="465" width="1" height="1" fill="#7a4a4a"/>
<rect x="1010" y="439" width="1" height="1" fill="#4a6a42"/>
<rect x="1010" y="465" width="1" height="1" fill="#7a4a4a"/>
<rect x="1020" y="439" width="1" height="1" fill="#4a6a42"/>
<rect x="1020" y="465" width="1" height="1" fill="#7a4a4a"/>
<rect x="1031" y="439" width="1" height="1" fill="#4a6a42"/>
<rect x="1031" y="465" width="1" height="1" fill="#7a4a4a"/>
<rect x="1041" y="439" width="1" height="1" fill="#4a6a42"/>
<rect x="1041" y="465" width="1" height="1" fill="#7a4a4a"/>
<rect x="1051" y="439" width="1" height="1" fill="#4a6a42"/>
<rect x="1051" y="465" width="1" height="1" fill="#7a4a4a"/>
<rect x="1062" y="439" width="1" height="1" fill="#4a6a42"/>
<rect x="1062" y="465" width="1" height="1" fill="#7a4a4a"/>
<rect x="1072" y="439" width="1" height="1" fill="#4a6a42"/>
<rect x="1072" y="465" width="1" height="1" fill="#7a4a4a"/>
<line x1="556.5" y1="419" x2="556.5" y2="439" stroke="rgba(0,0,0,0.07)" stroke-width="1"/>
<line x1="556.5" y1="466" x2="556.5" y2="487" stroke="rgba(0,0,0,0.07)" stroke-width="1"/>
</g>
<g clip-path="url(#cr)">
<polyline points="0.0,441.7 10.6,450.3 30.5,455.0 46.9,450.3 61.4,444.5 72.7,449.2 82.1,449.4 92.6,445.2 103.2,451.0 113.7,455.0 123.1,452.9 133.7,456.4 144.2,453.4 154.8,455.3 165.3,453.6 174.7,452.9 185.3,456.2 194.7,454.1 206.4,455.7 216.9,456.9 227.5,458.5 236.9,458.5 247.4,457.6 256.8,459.2 267.4,455.7 279.0,457.9 288.1,458.2 298.3,460.0 308.4,458.2 318.6,456.4 329.9,454.5 340.1,453.4 350.3,452.7 360.5,455.9 371.3,452.1 381.3,453.4 392.1,452.1 402.3,453.6 412.0,455.2 422.6,453.0 432.8,453.6 443.0,453.0 453.2,453.0 463.3,452.3 474.7,455.2 483.7,455.9 495.0,451.8 505.2,446.4 516.0,451.2 525.5,451.8 535.7,455.4 545.8,454.1 556.5,455.4 566.2,455.0 577.5,453.4 587.7,452.7 597.8,450.7 608.0,448.9 618.2,443.2 628.4,442.3 638.5,442.1 649.9,442.1 660.0,450.5 670.2,447.3 680.4,450.5 690.6,451.2 701.2,449.1 710.9,449.8 722.2,450.7 732.4,451.2 742.6,451.8 752.8,455.2 762.9,458.6 773.1,456.6 783.3,457.5 793.5,458.6 803.4,459.1 814.3,454.0 825.2,456.4 834.9,451.5 845.9,460.3 855.6,454.2 866.5,459.1 876.2,458.1 887.2,461.3 896.9,457.4 907.8,458.1 917.5,457.4 928.4,456.6 938.2,457.1 949.1,460.5 958.8,463.0 969.7,460.5 979.5,454.7 990.4,458.8 1000.1,459.8 1009.8,458.8 1020.3,457.4 1030.5,463.9 1041.4,464.4 1051.7,464.8 1062.0,465.6 1072.4,467.6" fill="none" stroke="#2f4dfa" stroke-width="1.1" stroke-linejoin="round"/>
</g>
<rect x="0.5" y="417.5" width="1123" height="70" fill="none" stroke="#cad1e3" stroke-width="1"/>
<rect x="5" y="422" width="111" height="22" fill="rgba(0,0,0,0.6)"/>
<rect x="5" y="422" width="3" height="22" fill="#1ee81e"/>
<text x="17" y="438.6" font-size="11" font-weight="bold" fill="#ffffff">RSI (14,70,30,1)</text>
<g shape-rendering="crispEdges">
<line x1="1124" y1="452.5" x2="1129" y2="452.5" stroke="#888" stroke-width="1"/>
<line x1="1124" y1="486.5" x2="1129" y2="486.5" stroke="#bbb" stroke-width="1"/>
</g>
<text x="1131.5" y="456.3" font-size="11" fill="#555555">50.0000</text>
<text x="1131.5" y="490.1" font-size="11" fill="#555555">0.0000</text>
<g shape-rendering="crispEdges">
<rect x="0" y="488" width="1" height="2" fill="#888"/>
<rect x="41" y="488" width="1" height="2" fill="#888"/>
<rect x="82" y="488" width="1" height="2" fill="#888"/>
<rect x="123" y="488" width="1" height="2" fill="#888"/>
<rect x="164" y="488" width="1" height="2" fill="#888"/>
<rect x="205" y="488" width="1" height="2" fill="#888"/>
<rect x="247" y="488" width="1" height="2" fill="#888"/>
<rect x="288" y="488" width="1" height="2" fill="#888"/>
<rect x="329" y="488" width="1" height="2" fill="#888"/>
<rect x="370" y="488" width="1" height="2" fill="#888"/>
<rect x="412" y="488" width="1" height="2" fill="#888"/>
<rect x="453" y="488" width="1" height="2" fill="#888"/>
<rect x="494" y="488" width="1" height="2" fill="#888"/>
<rect x="556" y="488" width="1" height="2" fill="#888"/>
<rect x="597" y="488" width="1" height="2" fill="#888"/>
<rect x="638" y="488" width="1" height="2" fill="#888"/>
<rect x="680" y="488" width="1" height="2" fill="#888"/>
<rect x="721" y="488" width="1" height="2" fill="#888"/>
<rect x="762" y="488" width="1" height="2" fill="#888"/>
<rect x="803" y="488" width="1" height="2" fill="#888"/>
<rect x="845" y="488" width="1" height="2" fill="#888"/>
<rect x="886" y="488" width="1" height="2" fill="#888"/>
<rect x="927" y="488" width="1" height="2" fill="#888"/>
<rect x="968" y="488" width="1" height="2" fill="#888"/>
<rect x="1010" y="488" width="1" height="2" fill="#888"/>
<rect x="1051" y="488" width="1" height="2" fill="#888"/>
<rect x="1092" y="488" width="1" height="2" fill="#888"/>
</g>
<text x="0.5" y="504" font-size="11" fill="#555555">Thu</text>
<text x="41.5" y="504" font-size="11" fill="#555555" text-anchor="middle">11:30</text>
<text x="82.7" y="504" font-size="11" fill="#555555" text-anchor="middle">12:30</text>
<text x="124.0" y="504" font-size="11" fill="#555555" text-anchor="middle">13:30</text>
<text x="165.2" y="504" font-size="11" fill="#555555" text-anchor="middle">14:30</text>
<text x="206.4" y="504" font-size="11" fill="#555555" text-anchor="middle">15:30</text>
<text x="247.7" y="504" font-size="11" fill="#555555" text-anchor="middle">16:30</text>
<text x="288.9" y="504" font-size="11" fill="#555555" text-anchor="middle">17:30</text>
<text x="330.1" y="504" font-size="11" fill="#555555" text-anchor="middle">18:30</text>
<text x="371.4" y="504" font-size="11" fill="#555555" text-anchor="middle">19:30</text>
<text x="412.6" y="504" font-size="11" fill="#555555" text-anchor="middle">20:30</text>
<text x="453.9" y="504" font-size="11" fill="#555555" text-anchor="middle">21:30</text>
<text x="495.1" y="504" font-size="11" fill="#555555" text-anchor="middle">22:30</text>
<text x="556.9" y="504" font-size="11" fill="#555555" text-anchor="middle">Fri</text>
<text x="598.2" y="504" font-size="11" fill="#555555" text-anchor="middle">01:00</text>
<text x="639.4" y="504" font-size="11" fill="#555555" text-anchor="middle">02:00</text>
<text x="680.6" y="504" font-size="11" fill="#555555" text-anchor="middle">03:00</text>
<text x="721.9" y="504" font-size="11" fill="#555555" text-anchor="middle">04:00</text>
<text x="763.1" y="504" font-size="11" fill="#555555" text-anchor="middle">05:00</text>
<text x="804.3" y="504" font-size="11" fill="#555555" text-anchor="middle">06:00</text>
<text x="845.6" y="504" font-size="11" fill="#555555" text-anchor="middle">07:00</text>
<text x="886.8" y="504" font-size="11" fill="#555555" text-anchor="middle">08:00</text>
<text x="928.1" y="504" font-size="11" fill="#555555" text-anchor="middle">09:00</text>
<text x="969.3" y="504" font-size="11" fill="#555555" text-anchor="middle">10:00</text>
<text x="1010.5" y="504" font-size="11" fill="#555555" text-anchor="middle">11:00</text>
<text x="1051.8" y="504" font-size="11" fill="#555555" text-anchor="middle">12:00</text>
<text x="1093.0" y="504" font-size="11" fill="#555555" text-anchor="middle">13:00</text>
</svg>
</body></html>
